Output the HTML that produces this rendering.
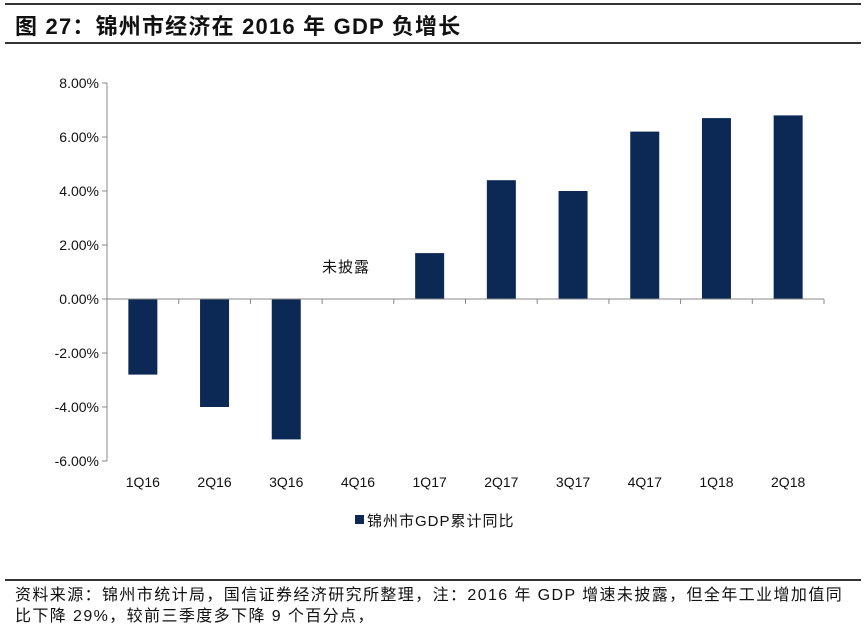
<!DOCTYPE html>
<html><head><meta charset="utf-8"><style>
body{margin:0;background:#fff;width:864px;height:628px;overflow:hidden;position:relative;font-family:"Liberation Sans","Noto Sans CJK SC",sans-serif;}
.hl{position:absolute;left:5px;width:856px;height:2px;background:#333;}
</style></head><body>
<div class="hl" style="top:3px"></div>
<div style="position:absolute;left:15px;top:9px;font-size:22px;letter-spacing:1.2px;font-weight:bold;color:#111;">图 27：锦州市经济在 2016 年 GDP 负增长</div>
<div class="hl" style="top:42px"></div>
<svg id="chart" width="864" height="560" style="position:absolute;left:0;top:0" font-family="Liberation Sans, Noto Sans CJK SC, sans-serif"></svg>
<div class="hl" style="top:579px"></div>
<div style="position:absolute;left:15px;top:585px;font-size:16px;letter-spacing:1.4px;line-height:21px;color:#111;width:850px;white-space:nowrap;">资料来源：锦州市统计局，国信证券经济研究所整理，注：2016 年 GDP 增速未披露，但全年工业增加值同<br>比下降 29%，较前三季度多下降 9 个百分点，</div>
<script>
const categories=["1Q16","2Q16","3Q16","4Q16","1Q17","2Q17","3Q17","4Q17","1Q18","2Q18"];
const values=[-2.8,-4.0,-5.2,null,1.7,4.4,4.0,6.2,6.7,6.8];
const yTicks=[8,6,4,2,0,-2,-4,-6];
const ns="http://www.w3.org/2000/svg";
const svg=document.getElementById('chart');
const x0=107,x1=824,yTop=83,yBot=461,vMax=8,vMin=-6;
const y=v=>yTop+(vMax-v)/(vMax-vMin)*(yBot-yTop);
const bw=(x1-x0)/categories.length;
const xc=i=>x0+bw*(i+0.5);
function mk(t,a){const e=document.createElementNS(ns,t);for(const k in a)e.setAttribute(k,a[k]);svg.appendChild(e);return e;}
let ax=mk('line',{x1:x0,x2:x0,y1:yTop,y2:yBot,stroke:'#888'});


yTicks.forEach(v=>{
  const t=mk('line',{x1:x0-5,x2:x0,y1:y(v),y2:y(v),stroke:'#888'});
  
  
  const l=mk('text',{x:x0-8,y:y(v)+5,'text-anchor':'end','font-size':14,fill:'#111'});
  l.textContent=v.toFixed(2)+'%';
  
  
});
values.forEach((v,i)=>{
  if(v!==null){
    const r=mk('rect',{x:xc(i)-14.5,width:29,y:Math.min(y(v),y(0)),height:Math.abs(y(v)-y(0)),fill:'#0c2854'});
    
    
  }
  const l=mk('text',{x:xc(i),y:487,'text-anchor':'middle','font-size':14,fill:'#111'});
  l.textContent=categories[i];
  
  
});
let zx=mk('line',{x1:x0,x2:x1,y1:y(0),y2:y(0),stroke:'#888'});


for(let i=0;i<=categories.length;i++){
  const t=mk('line',{x1:x0+bw*i,x2:x0+bw*i,y1:y(0),y2:y(0)+5,stroke:'#888'});
  
  
}
const na=mk('text',{x:346,y:272,'text-anchor':'middle','font-size':15,fill:'#111','letter-spacing':1});
na.textContent='未披露';


const ls=mk('rect',{x:355,y:515,width:9,height:9,fill:'#0c2854'});


const lt=mk('text',{x:367,y:526,'font-size':15,fill:'#111','letter-spacing':1});
lt.textContent='锦州市GDP累计同比';


</script>
</body></html>
